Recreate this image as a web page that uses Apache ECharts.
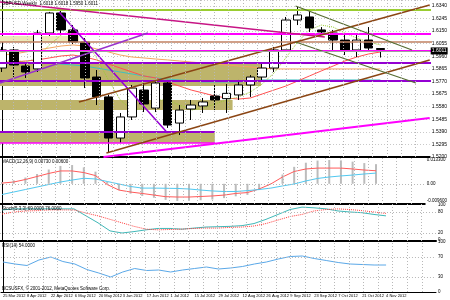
<!DOCTYPE html>
<html><head><meta charset="utf-8">
<script src="https://cdn.jsdelivr.net/npm/echarts@6/dist/echarts.min.js"></script>
<style>html,body{margin:0;padding:0;background:#fff;overflow:hidden}#c{width:450px;height:300px}</style>
</head><body><div id="c"></div>
<script>
// ---------- data ----------
const dateLabels = ['25 Mar 2012','8 Apr 2012','22 Apr 2012','6 May 2012','20 May 2012','3 Jun 2012','17 Jun 2012','1 Jul 2012','15 Jul 2012','29 Jul 2012','12 Aug 2012','26 Aug 2012','9 Sep 2012','23 Sep 2012','7 Oct 2012','21 Oct 2012','4 Nov 2012'];
const dateIndex = [0,2,4,6,8,10,12,14,16,18,20,22,24,26,28,30,32];
// weekly candles: [open, close, low, high]
const ohlc = [
 [1.5871,1.6007,1.5841,1.6030],[1.6007,1.5894,1.5803,1.6030],[1.5886,1.5841,1.5796,1.5916],[1.5864,1.6135,1.5841,1.6158],
 [1.6135,1.6286,1.6113,1.6294],[1.6286,1.6158,1.6120,1.6301],[1.6158,1.6067,1.6052,1.6195],[1.6067,1.5796,1.5720,1.6097],
 [1.5803,1.5653,1.5592,1.5856],[1.5653,1.5343,1.5230,1.5668],[1.5343,1.5502,1.5306,1.5532],[1.5502,1.5720,1.5479,1.5743],
 [1.5705,1.5600,1.5539,1.5758],[1.5569,1.5758,1.5539,1.5781],[1.5758,1.5441,1.5419,1.5781],[1.5456,1.5554,1.5366,1.5592],
 [1.5562,1.5592,1.5479,1.5630],[1.5585,1.5615,1.5532,1.5645],[1.5660,1.5630,1.5554,1.5743],[1.5640,1.5680,1.5532,1.5750],
 [1.5668,1.5743,1.5630,1.5781],[1.5743,1.5803,1.5653,1.5818],[1.5803,1.5871,1.5766,1.5916],[1.5871,1.6007,1.5841,1.6030],
 [1.6007,1.6233,1.5992,1.6256],[1.6233,1.6271,1.6195,1.6331],[1.6256,1.6173,1.6143,1.6309],[1.6158,1.6143,1.6120,1.6180],
 [1.6135,1.6082,1.6007,1.6158],[1.6082,1.6007,1.5969,1.6120],[1.6007,1.6082,1.5954,1.6120],[1.6082,1.6022,1.5992,1.6180],
 [1.6018,1.6011,1.5950,1.6018]
];
const maRed = [1.5916,1.5916,1.5924,1.5932,1.5947,1.5962,1.5969,1.5954,1.5932,1.5901,1.5871,1.5841,1.5811,1.5796,1.5766,1.5735,1.5705,1.5683,1.5660,1.5645,1.5637,1.5645,1.5675,1.5705,1.5735,1.5773,1.5811,1.5849,1.5886,1.5924,1.5954,1.5977,1.5992];
const maOrange = [1.5969,1.5977,1.5992,1.6007,1.6022,1.6037,1.6045,1.6037,1.6015,1.5992,1.5969,1.5954,1.5947,1.5939,1.5932,1.5924,1.5916,1.5909,1.5901,1.5894,1.5886,1.5879,1.5871,1.5864,1.5864,1.5864,1.5864,1.5864,1.5864,1.5864,1.5864,1.5864,1.5864];
const maCyan = [1.5909,1.5909,1.5909,1.5909,1.5909,1.5901,1.5894,1.5886,1.5871,1.5856,1.5841,1.5826,1.5811,1.5796,1.5788,1.5781,1.5773,1.5766,1.5766,1.5766,1.5766,1.5773,1.5781,1.5781,1.5781,1.5781,1.5781,1.5781,1.5781,1.5781,1.5781,1.5781,1.5781];
const maGreen = [1.5916,1.5932,1.5916,1.5947,1.6045,1.6120,1.6158,1.6082,1.5947,1.5781,1.5630,1.5554,1.5569,1.5630,1.5630,1.5592,1.5554,1.5569,1.5600,1.5630,1.5653,1.5690,1.5751,1.5833,1.5947,1.6067,1.6158,1.6195,1.6180,1.6135,1.6097,1.6067,1.6045];
const macdMain = [0.0004,0.0010,0.0024,0.0041,0.0058,0.0072,0.0072,0.0063,0.0046,-0.0004,-0.0035,-0.0046,-0.0054,-0.0063,-0.0072,-0.0074,-0.0074,-0.0071,-0.0068,-0.0063,-0.0054,-0.0049,-0.0029,-0.0001,0.0038,0.0069,0.0083,0.0088,0.0088,0.0088,0.0083,0.0077,0.0073];
const macdSignal = [-0.0060,-0.0046,-0.0032,-0.0018,-0.0004,0.0010,0.0021,0.0031,0.0027,0.0013,-0.0001,-0.0015,-0.0024,-0.0024,-0.0025,-0.0026,-0.0029,-0.0035,-0.0040,-0.0043,-0.0043,-0.0038,-0.0032,-0.0024,-0.0012,-0.0001,0.0016,0.0030,0.0038,0.0044,0.0049,0.0055,0.0060];
const macdHist = [0.0010,0.0020,0.0035,0.0055,0.0080,0.0100,0.0105,0.0092,0.0068,0.0010,-0.0035,-0.0055,-0.0068,-0.0078,-0.0090,-0.0096,-0.0095,-0.0092,-0.0088,-0.0080,-0.0070,-0.0062,-0.0035,0.0002,0.0052,0.0095,0.0118,0.0130,0.0133,0.0131,0.0124,0.0116,0.0110];
const stochMain = [86,89,89,89,89,89,89,69,49,26,20,24,29,33,33,31,34,37,38,39,41,47,59,73,87,94,92,89,83,80,78,73,69];
const stochSignal = [74,80,83,84,86,86,86,77,69,59,49,39,31,29,30,31,33,34,34,36,37,40,47,57,67,73,83,87,89,87,84,80,76];
const rsi = [60,56,53,64,70,61,56,45,38,30,40,47,43,44,40,44,47,50,46,48,51,56,60,66,71,72,67,63,59,56,55,54,54];
const priceTickStep = 0.0095;
const priceMin = 1.5200, priceMax = 1.6384;
const lastPrice = 1.6011;
// horizontal levels [price, color, width, x-from, x-to]
const levels = [
 [1.6309,'#9acd32',2,-1,37],
 [1.6128,'#ff00ff',2,-1,37],
 [1.6067,'#c08060',1.5,-1,37],
 [1.5999,'#ff00ff',2,-1,37],
 [1.5909,'#9400d3',2,-1,37],
 [1.5773,'#9400d3',2,-1,37],
 [1.5389,'#9400d3',2,-1,18],
 [1.5306,'#ff00ff',1.5,-1,18]
];
// trend lines [[x1,p1],[x2,p2], color, width]
const trendLines = [
 [[-0.17,1.6369],[27.3,1.6105],'#c71585',1.5],
 [[4.83,1.6294],[14.0,1.5381],'#9400d3',1.5],
 [[-0.17,1.5758],[12.33,1.6135],'#9932cc',1.5],
 [[6.5,1.5615],[36.17,1.6346],'#8b4513',1.5],
 [[8.83,1.5230],[36.17,1.5931],'#8b4513',1.5],
 [[24.83,1.6339],[34.67,1.6007],'#556b2f',1.2],
 [[24.83,1.6067],[35.0,1.5758],'#556b2f',1.2],
 [[8.58,1.5200],[36.17,1.5494],'#ff00ff',2]
];
// zones [[x1,p1],[x2,p2], color]
const zones = [
 [[-1,1.5909],[21.9,1.5735],'#bdb46b'],
 [[-1,1.5630],[19.5,1.5554],'#bdb46b'],
 [[-1,1.5389],[18.0,1.5306],'#bdb46b'],
 [[-1,1.6112],[6.5,1.6067],'#ece8b8']
];
const macdLabels = [0.0133, 0, -0.0096];
const stochLabels = [0,20,80,100];
const rsiLabels = [0,30,70,100];
const vGridStart = 0.917, vGridStep = 1.2167, vGridCount = 30;

// ---------- chart ----------
const X_MIN = -0.17, X_MAX = 36.17;
const FONT = 'Liberation Sans';
const grids = [
 {left:0,right:14,top:0,height:157},
 {left:0,right:14,top:157,height:47},
 {left:0,right:14,top:204,height:37},
 {left:0,right:14,top:241,height:51}
];
const xAxes = grids.map((g,i)=>({
 type:'value', gridIndex:i, min:X_MIN, max:X_MAX,
 axisLine:{show:true,onZero:false,lineStyle:{color:'#000',width:i<3?2:1}},
 axisTick:{show:false}, splitLine:{show:false},
 axisLabel: i===3 ? {show:true, customValues:dateIndex, hideOverlap:false, showMinLabel:true, formatter:v=>dateLabels[dateIndex.indexOf(Math.round(v))]||'', fontSize:4, fontFamily:FONT, color:'#000', align:'left', margin:2} : {show:false}
}));
function yAx(i,extra){
 return Object.assign({type:'value',gridIndex:i,position:'right',
  axisLine:{show:true,lineStyle:{color:'#000',width:1}},axisTick:{show:false},
  splitLine:{show:false},
  axisLabel:{fontSize:5,fontFamily:FONT,color:'#000',margin:2}},extra);
}
const yAxes = [
 yAx(0,{min:priceMin,max:priceMax,interval:priceTickStep,
   splitLine:{show:true,lineStyle:{color:'#c8c8c8',type:[1,2],width:1}},
   axisLabel:{fontSize:5,fontFamily:FONT,color:'#000',margin:2,formatter:v=>v.toFixed(4),showMinLabel:true,showMaxLabel:false}}),
 yAx(1,{min:-0.0113,max:0.0150,axisLabel:{fontSize:4.5,fontFamily:FONT,color:'#000',margin:2,customValues:macdLabels,formatter:v=>v===0?'0.00':v.toFixed(6)}}),
 yAx(2,{min:-2.9,max:102.9,axisLabel:{fontSize:4.5,fontFamily:FONT,color:'#000',margin:2,customValues:stochLabels}}),
 yAx(3,{min:0,max:102,axisLabel:{fontSize:4.5,fontFamily:FONT,color:'#000',margin:2,customValues:rsiLabels}})
];
const idx = a => a.map((v,i)=>[i,v]);
const vlines = Array.from({length:vGridCount},(_,n)=>({xAxis:vGridStart+n*vGridStep}));
const vgrid = (gi)=>({type:'line',xAxisIndex:gi,yAxisIndex:gi,data:[],silent:true,
 markLine:{symbol:'none',silent:true,label:{show:false},lineStyle:{color:'#b8b8b8',type:[1,2],width:1},data:vlines}});
const series = [];
series.push({type:'line',xAxisIndex:0,yAxisIndex:0,data:[],z:1,silent:true,
 markArea:{silent:true,data:zones.map(z=>[{coord:z[0],itemStyle:{color:z[2],opacity:1}},{coord:z[1]}])}});
[0,1,2,3].forEach(g=>series.push(vgrid(g)));
[[maOrange,'#f4a460','solid'],[maCyan,'#40c0c0','solid'],[maRed,'#ff5050','solid'],[maGreen,'#9acd32',[1,1]]].forEach(m=>series.push({type:'line',xAxisIndex:0,yAxisIndex:0,data:idx(m[0]),symbol:'none',z:2,silent:true,lineStyle:{color:m[1],width:1,type:m[2]}}));
series.push({type:'candlestick',xAxisIndex:0,yAxisIndex:0,barWidth:9,z:3,
 data:ohlc.map((d,i)=>[i,d[0],d[1],d[2],d[3]]),encode:{x:0,y:[1,2,3,4]},
 itemStyle:{color:'#fff',color0:'#000',borderColor:'#000',borderColor0:'#000',borderWidth:1},
 markLine:{symbol:'none',silent:true,data:[{yAxis:lastPrice}],lineStyle:{color:'#a0a0a0',type:'solid',width:1},
  label:{show:true,position:'end',formatter:()=>lastPrice.toFixed(4),color:'#fff',backgroundColor:'#000',fontSize:5,fontFamily:FONT,padding:[1,1],distance:1}}});
levels.forEach(l=>series.push({type:'line',xAxisIndex:0,yAxisIndex:0,data:[[l[3],l[0]],[l[4],l[0]]],symbol:'none',z:4,silent:true,lineStyle:{color:l[1],width:l[2]}}));
trendLines.forEach(t=>series.push({type:'line',xAxisIndex:0,yAxisIndex:0,data:[t[0],t[1]],symbol:'none',z:4,silent:true,lineStyle:{color:t[2],width:t[3]}}));
series.push({type:'bar',xAxisIndex:1,yAxisIndex:1,data:idx(macdHist),barWidth:2,silent:true,itemStyle:{color:'#bcbcbc'}});
series.push({type:'line',xAxisIndex:1,yAxisIndex:1,data:idx(macdMain),symbol:'none',silent:true,z:3,lineStyle:{color:'#ff5a5a',width:1},
 markLine:{symbol:'none',silent:true,label:{show:false},lineStyle:{color:'#b8b8b8',type:[1,2],width:1},data:[{yAxis:0}]}});
series.push({type:'line',xAxisIndex:1,yAxisIndex:1,data:idx(macdSignal),symbol:'none',silent:true,z:3,lineStyle:{color:'#50c8f0',width:1}});
series.push({type:'line',xAxisIndex:2,yAxisIndex:2,data:idx(stochMain),symbol:'none',silent:true,lineStyle:{color:'#40b8b8',width:1},
 markLine:{symbol:'none',silent:true,label:{show:false},lineStyle:{color:'#b8b8b8',type:[1,2],width:1},data:[{yAxis:20},{yAxis:80}]}});
series.push({type:'line',xAxisIndex:2,yAxisIndex:2,data:idx(stochSignal),symbol:'none',silent:true,lineStyle:{color:'#ff4040',width:1,type:[1,1]}});
series.push({type:'line',xAxisIndex:3,yAxisIndex:3,data:idx(rsi),symbol:'none',silent:true,lineStyle:{color:'#5aa8e8',width:1},
 markLine:{symbol:'none',silent:true,label:{show:false},lineStyle:{color:'#b8b8b8',type:[1,2],width:1},data:[{yAxis:30},{yAxis:70}]}});

const txt = (x,y,s)=>({type:'text',left:x,top:y,z:100,style:{text:s,fontSize:4.5,fontFamily:FONT,fill:'#000'}});
const last = ohlc[ohlc.length-1];
const option = {
 animation:false, backgroundColor:'#fff',
 grid:grids, xAxis:xAxes, yAxis:yAxes, series:series,
 graphic:[
  txt(2,1,'GBPUSD,Weekly  '+last[0].toFixed(4)+' '+last[3].toFixed(4)+' '+last[2].toFixed(4)+' '+last[1].toFixed(4)),
  txt(2,159,'MACD(12,26,9) '+macdMain[32].toFixed(5)+' '+macdSignal[32].toFixed(5)),
  txt(2,206,'Stoch(5,3,3) '+stochMain[32].toFixed(4)+' '+stochSignal[32].toFixed(4)),
  txt(2,243,'RSI(14) '+rsi[32].toFixed(4)),
  txt(2,286,'BCSUSFX, © 2001-2012, MetaQuotes Software Corp.')
 ]
};
const chart = echarts.init(document.getElementById('c'));
chart.setOption(option);
</script></body></html>
